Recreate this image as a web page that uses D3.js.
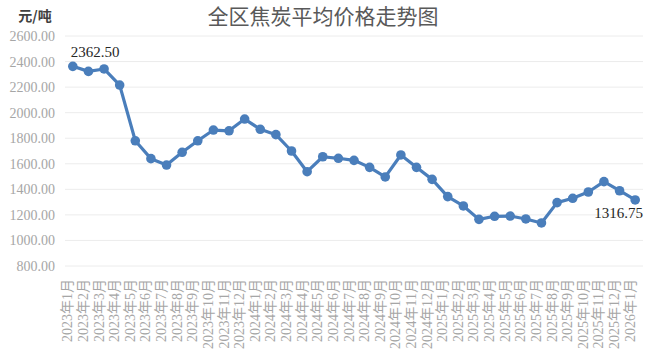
<!DOCTYPE html>
<html>
<head>
<meta charset="utf-8">
<script src="https://cdn.jsdelivr.net/npm/d3@7"></script>
<style>
  html, body { margin: 0; padding: 0; background: #fff; }
  svg { display: block; }
</style>
</head>
<body>
<svg id="chart" width="653" height="351"></svg>
<script>
const months = [
  "2023年1月","2023年2月","2023年3月","2023年4月","2023年5月","2023年6月","2023年7月","2023年8月","2023年9月","2023年10月","2023年11月","2023年12月",
  "2024年1月","2024年2月","2024年3月","2024年4月","2024年5月","2024年6月","2024年7月","2024年8月","2024年9月","2024年10月","2024年11月","2024年12月",
  "2025年1月","2025年2月","2025年3月","2025年4月","2025年5月","2025年6月","2025年7月","2025年8月","2025年9月","2025年10月","2025年11月","2025年12月",
  "2026年1月"
];
const prices = [
  2362.50, 2323, 2342, 2216, 1780, 1640, 1590, 1690, 1780, 1864, 1858, 1950,
  1870, 1828, 1700, 1538, 1655, 1643, 1627, 1572, 1497, 1669, 1572, 1478,
  1343, 1270, 1165, 1189, 1191, 1168, 1137, 1296, 1330, 1379, 1460, 1389,
  1316.75
];
const yTicks = [800, 1000, 1200, 1400, 1600, 1800, 2000, 2200, 2400, 2600];
const title = "全区焦炭平均价格走势图";
const unitLabel = "元/吨";

const svg = d3.select("#chart");
const serif = "'Liberation Serif','Times New Roman','Noto Sans CJK SC',serif";

const x = d3.scaleBand().domain(months).range([65, 643]);
const y = d3.scaleLinear().domain([800, 2600]).range([266, 36]);

// gridlines
svg.append("g").selectAll("line").data(yTicks).join("line")
  .attr("x1", 65).attr("x2", 643)
  .attr("y1", d => y(d)).attr("y2", d => y(d))
  .attr("stroke", "#ececec").attr("stroke-width", 1);

// y axis
const yAxis = d3.axisLeft(y).tickValues(yTicks).tickFormat(d3.format(".2f")).tickSize(0).tickPadding(10);
const yg = svg.append("g").attr("transform", "translate(65,0)").call(yAxis);
yg.select(".domain").remove();
yg.selectAll("text")
  .attr("font-family", serif).attr("font-size", 14).attr("fill", "#a6a6a6");

// x axis
const xAxis = d3.axisBottom(x).tickSize(0).tickPadding(0);
const xg = svg.append("g").attr("transform", "translate(0,279)").call(xAxis);
xg.select(".domain").remove();
xg.selectAll("text")
  .attr("font-family", serif).attr("font-size", 14).attr("fill", "#a6a6a6")
  .attr("text-anchor", "end")
  .attr("dominant-baseline", "central")
  .attr("transform", "translate(-5,0) rotate(-90)")
  .attr("x", 0).attr("y", 0).attr("dy", null);

// line
const cx = d => x(d) + x.bandwidth() / 2;
const line = d3.line().x((d, i) => cx(months[i])).y(d => y(d));
svg.append("path").datum(prices)
  .attr("d", line).attr("fill", "none")
  .attr("stroke", "#4a7ebb").attr("stroke-width", 3.2)
  .attr("stroke-linejoin", "round");

svg.append("g").selectAll("circle").data(prices).join("circle")
  .attr("cx", (d, i) => cx(months[i])).attr("cy", d => y(d))
  .attr("r", 4.8).attr("fill", "#4a7ebb");

// data labels
const first = 0, last = prices.length - 1;
svg.append("text")
  .attr("x", cx(months[first]) - 2).attr("y", y(prices[first]) - 9)
  .attr("font-family", serif).attr("font-size", 15).attr("fill", "#262626")
  .text(d3.format(".2f")(prices[first]));
svg.append("text")
  .attr("x", 643).attr("y", y(prices[last]) + 18)
  .attr("text-anchor", "end")
  .attr("font-family", serif).attr("font-size", 15).attr("fill", "#262626")
  .text(d3.format(".2f")(prices[last]));

// title
svg.append("text")
  .attr("x", 323).attr("y", 24)
  .attr("text-anchor", "middle")
  .attr("font-family", serif).attr("font-size", 21).attr("fill", "#595959")
  .text(title);

// unit label
svg.append("text")
  .attr("x", 35).attr("y", 21)
  .attr("text-anchor", "middle")
  .attr("font-family", "'Noto Sans CJK SC',sans-serif").attr("font-weight", "bold")
  .attr("font-size", 14).attr("fill", "#404040")
  .text(unitLabel);
</script>
</body>
</html>
